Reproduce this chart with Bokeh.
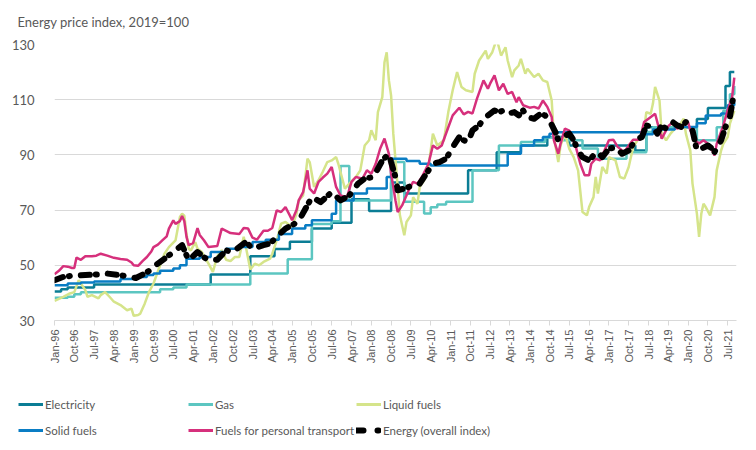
import math
from bokeh.plotting import figure
from bokeh.layouts import column
from bokeh.models import Range1d, FixedTicker, Legend, LegendItem
from bokeh.core.properties import value
from bokeh.embed import file_html
from bokeh.resources import INLINE

# x positions are month indices counted from Jan-1996 (0 = Jan-96)
tick_labels = ["Jan-96", "Oct-96", "Jul-97", "Apr-98", "Jan-99", "Oct-99", "Jul-00", "Apr-01",
               "Jan-02", "Oct-02", "Jul-03", "Apr-04", "Jan-05", "Oct-05", "Jul-06", "Apr-07",
               "Jan-08", "Oct-08", "Jul-09", "Apr-10", "Jan-11", "Oct-11", "Jul-12", "Apr-13",
               "Jan-14", "Oct-14", "Jul-15", "Apr-16", "Jan-17", "Oct-17", "Jul-18", "Apr-19",
               "Jan-20", "Oct-20", "Jul-21"]
tick_months = [9 * i for i in range(len(tick_labels))]
y_ticks = [30, 50, 70, 90, 110, 130]
title_text = "Energy price index, 2019=100"

# step series: (month where the level starts, level)
electricity = [(0, 40.5), (3, 41.3), (6, 42.0), (18, 43.0), (71, 46.7), (89, 53.3), (100, 55.9),
               (107, 58.5), (117, 63.3), (126, 65.4), (135, 73.9), (143, 69.7), (153, 80.0),
               (159, 76.0), (188, 84.4), (201, 91.0), (212, 93.4), (224, 96.5), (234, 93.4),
               (264, 91.6), (269, 100.0), (292, 103.0), (297, 107.0), (305, 115.0), (307, 120.0),
               (309, 120.0)]
gas = [(0, 38.2), (6, 38.6), (9, 39.5), (12, 40.2), (48, 41.3), (54, 42.0), (60, 43.0), (89, 47.0),
       (106, 52.2), (117, 65.0), (126, 66.0), (130, 86.0), (134, 73.5), (153, 87.4), (159, 73.0),
       (168, 68.8), (171, 71.0), (174, 72.0), (178, 73.0), (190, 84.4), (202, 93.4), (212, 94.7),
       (223, 96.3), (230, 95.3), (240, 92.3), (247, 88.6), (260, 91.0), (269, 98.3), (272, 100.0),
       (292, 95.3), (301, 100.0), (304, 106.0), (307, 112.0), (309, 115.0)]
solid_fuels = [(0, 42.8), (6, 43.4), (12, 43.8), (18, 44.1), (30, 45.0), (36, 45.8), (42, 46.5),
               (45, 47.0), (48, 48.0), (54, 48.8), (57, 50.0), (60, 52.4), (66, 53.0), (71, 54.8),
               (78, 56.0), (84, 56.6), (90, 58.4), (96, 59.3), (102, 61.3), (108, 63.3), (114, 64.5),
               (117, 66.3), (126, 68.7), (128, 73.5), (136, 76.0), (142, 77.8), (151, 82.0),
               (153, 88.6), (160, 87.8), (166, 86.8), (171, 86.2), (206, 90.4), (212, 93.4),
               (218, 95.3), (222, 96.5), (225, 97.7), (228, 98.2), (268, 97.5), (272, 99.2),
               (282, 100.1), (292, 101.5), (296, 104.3), (303, 105.0), (306, 108.0), (309, 109.0)]

# volatile series: (month, value)
liquid_fuels = [(0, 37.1), (1, 37.5), (4, 38.6), (7, 39.8), (9, 40.3), (11, 44.6), (12, 43.4), (14, 41.0),
                (15, 38.6), (17, 39.2), (20, 38.0), (21, 39.2), (23, 40.3), (25, 38.6), (27, 36.8),
                (30, 35.6), (33, 33.7), (35, 34.3), (36, 31.7), (38, 32.0), (39, 32.5), (41, 36.1),
                (43, 40.4), (45, 43.4), (48, 50.0), (50, 54.2), (52, 56.6), (55, 59.0), (57, 67.5),
                (58, 68.7), (59, 68.0), (60, 61.5), (61, 56.0), (62, 55.4), (64, 58.4), (65, 56.0),
                (67, 54.8), (70, 50.6), (72, 47.6), (74, 53.3), (76, 55.5), (78, 52.0), (80, 51.5),
                (82, 53.0), (84, 53.0), (86, 60.3), (87, 56.6), (89, 48.5), (91, 50.6), (93, 50.0),
                (95, 51.2), (98, 52.4), (99, 54.2), (101, 59.0), (103, 65.1), (105, 65.7), (108, 63.9),
                (110, 68.7), (111, 73.5), (113, 75.3), (115, 88.6), (116, 87.4), (118, 78.4),
                (120, 80.8), (122, 84.0), (124, 87.4), (126, 88.0), (128, 89.2), (129, 86.8),
                (131, 80.8), (132, 77.8), (134, 79.6), (137, 82.0), (139, 84.4), (141, 93.4),
                (143, 95.3), (144, 98.9), (146, 95.3), (147, 105.5), (149, 110.9), (150, 123.6),
                (151, 127.2), (152, 117.0), (153, 111.5), (154, 97.7), (156, 78.4), (157, 68.1),
                (159, 60.9), (160, 65.7), (162, 68.1), (163, 74.7), (165, 72.3), (166, 78.4),
                (168, 80.8), (170, 85.6), (172, 97.7), (174, 93.4), (177, 95.3), (179, 105.5),
                (181, 113.4), (183, 120.0), (185, 114.6), (187, 113.4), (190, 112.8), (191, 119.4),
                (193, 124.2), (196, 127.8), (197, 124.8), (199, 127.2), (201, 132.0), (202, 129.0),
                (203, 126.0), (205, 129.0), (206, 124.2), (208, 118.2), (209, 120.6), (211, 122.4),
                (212, 124.8), (214, 119.4), (215, 121.2), (218, 118.2), (220, 119.4), (222, 117.0),
                (224, 116.4), (226, 109.7), (227, 96.5), (229, 87.4), (230, 93.4), (232, 97.7),
                (234, 92.2), (236, 89.2), (238, 84.4), (240, 69.3), (242, 68.1), (243, 71.1),
                (245, 74.7), (246, 82.0), (247, 76.0), (249, 85.6), (251, 83.2), (252, 89.2),
                (255, 88.0), (257, 82.0), (259, 81.4), (261, 85.6), (263, 92.8), (265, 95.3),
                (268, 98.9), (269, 105.5), (271, 104.9), (272, 108.5), (273, 114.6), (275, 109.7),
                (276, 97.7), (278, 95.3), (280, 97.7), (282, 99.5), (284, 100.7), (286, 103.1),
                (287, 97.7), (289, 91.6), (290, 79.6), (292, 68.7), (293, 60.3), (294, 68.7),
                (295, 72.3), (296, 71.1), (298, 68.1), (300, 74.7), (301, 84.4), (303, 91.6),
                (304, 94.0), (306, 96.5), (307, 101.3), (309, 106.0)]
transport_fuels = [(0, 46.8), (2, 48.0), (4, 49.7), (6, 49.5), (8, 49.0), (9, 49.0), (10, 52.8), (12, 52.0),
                   (14, 53.3), (17, 53.3), (19, 53.5), (21, 54.2), (24, 53.5), (27, 52.7), (30, 52.3),
                   (33, 52.0), (35, 51.0), (36, 50.0), (38, 49.8), (40, 51.5), (42, 53.0), (44, 55.0),
                   (45, 56.6), (47, 57.5), (49, 59.0), (51, 60.5), (52, 63.3), (54, 66.3), (55, 65.0),
                   (57, 66.0), (58, 67.9), (59, 66.0), (60, 60.3), (61, 57.3), (63, 58.0), (65, 63.5),
                   (66, 61.0), (68, 59.0), (70, 56.6), (72, 56.8), (74, 57.0), (76, 63.3), (78, 62.5),
                   (80, 61.7), (82, 61.5), (84, 61.3), (86, 63.5), (88, 63.3), (90, 60.0), (92, 59.3),
                   (95, 62.5), (97, 62.5), (99, 63.5), (101, 69.9), (103, 69.3), (105, 71.1), (107, 68.0),
                   (108, 66.3), (110, 70.0), (111, 73.5), (113, 76.5), (115, 84.4), (116, 77.8),
                   (118, 76.0), (120, 80.2), (122, 81.8), (124, 83.2), (126, 85.6), (128, 78.4),
                   (130, 75.3), (133, 74.7), (135, 80.2), (137, 82.0), (140, 81.4), (142, 84.4),
                   (144, 83.2), (146, 86.8), (148, 92.2), (150, 95.9), (152, 90.4), (153, 83.2),
                   (155, 73.5), (156, 69.3), (158, 71.7), (161, 77.2), (163, 80.2), (165, 79.6),
                   (167, 82.0), (170, 86.8), (172, 93.4), (174, 92.2), (176, 93.4), (179, 100.0),
                   (181, 104.3), (184, 107.1), (186, 104.7), (188, 105.6), (190, 105.0), (192, 110.3),
                   (195, 117.0), (197, 114.0), (198, 115.8), (200, 118.8), (202, 113.4), (204, 115.8),
                   (206, 112.1), (208, 112.8), (210, 109.1), (211, 110.9), (213, 108.0), (216, 107.1),
                   (218, 107.4), (220, 106.8), (222, 109.7), (224, 107.4), (226, 103.7), (227, 95.3),
                   (229, 90.4), (230, 94.0), (232, 99.5), (234, 98.8), (237, 92.8), (239, 86.8),
                   (241, 82.6), (243, 82.6), (244, 86.8), (246, 88.6), (248, 88.0), (250, 91.6),
                   (252, 95.3), (254, 95.5), (256, 92.9), (259, 91.0), (261, 93.4), (263, 95.5),
                   (266, 95.5), (268, 101.9), (270, 103.1), (273, 104.9), (275, 98.9), (276, 95.9),
                   (279, 100.4), (281, 101.9), (283, 99.5), (285, 100.4), (288, 101.9), (289, 98.9),
                   (291, 95.3), (293, 94.1), (295, 95.3), (298, 93.4), (300, 89.8), (301, 94.0),
                   (304, 100.7), (306, 106.1), (308, 110.9), (309, 118.0)]
energy_overall = [(0, 44.6), (4, 45.8), (8, 46.2), (12, 46.4), (18, 46.6), (24, 47.0), (30, 46.4),
                  (34, 45.8), (37, 45.4), (41, 47.0), (44, 48.5), (46, 50.0), (50, 52.4), (54, 54.8),
                  (58, 57.3), (61, 51.8), (65, 54.8), (69, 52.3), (74, 52.0), (78, 55.4), (81, 54.8),
                  (87, 58.5), (90, 56.0), (95, 57.3), (98, 57.9), (101, 60.3), (105, 63.3), (109, 65.0),
                  (112, 67.5), (117, 74.7), (121, 72.9), (126, 76.5), (130, 73.5), (134, 75.3),
                  (138, 79.6), (141, 81.4), (145, 82.0), (149, 88.0), (152, 90.4), (153, 87.4),
                  (155, 82.0), (156, 77.2), (159, 77.8), (163, 79.0), (166, 79.6), (169, 83.2),
                  (172, 86.8), (175, 87.4), (178, 88.6), (181, 92.8), (184, 96.5), (186, 95.3),
                  (188, 94.7), (190, 98.9), (193, 100.7), (195, 103.1), (197, 104.3), (200, 106.1),
                  (202, 105.5), (204, 106.1), (206, 104.9), (209, 105.5), (211, 104.3), (213, 106.1),
                  (215, 103.7), (218, 103.1), (221, 104.9), (223, 104.3), (225, 102.5), (228, 97.7),
                  (229, 95.3), (231, 96.5), (234, 97.7), (236, 95.3), (238, 91.6), (240, 89.2),
                  (243, 88.0), (245, 89.8), (247, 91.0), (249, 89.2), (252, 92.2), (255, 92.8),
                  (258, 90.4), (261, 91.6), (264, 95.3), (267, 96.5), (269, 100.7), (272, 100.1),
                  (274, 97.7), (276, 100.7), (278, 99.5), (281, 101.9), (283, 100.7), (285, 100.1),
                  (287, 101.9), (290, 98.9), (292, 91.6), (294, 92.2), (297, 93.4), (299, 92.2),
                  (300, 91.0), (303, 95.3), (305, 100.1), (307, 103.7), (309, 113.0)]

GREY = "#595959"
GRID = "#d9d9d9"
C_EL, C_GAS, C_LIQ, C_SOL, C_TR = "#0b7d95", "#5cc6c1", "#d5e48a", "#0a7dc4", "#d6307c"
W = 756


def no_align(f):
    if "frame_align" in f.properties():
        f.frame_align = False
    return f


def bare(height):
    f = figure(width=W, height=height, frame_width=W, frame_height=height,
               x_range=Range1d(0, W), y_range=Range1d(0, height),
               x_axis_type=None, y_axis_type=None, output_backend="svg", toolbar_location=None,
               min_border=0)
    f.outline_line_color = None
    f.grid.visible = False
    return no_align(f)


def xy(pairs):
    return [a for a, _ in pairs], [b for _, b in pairs]


# ---- title strip ----
pt = bare(34)
pt.text(x=[17], y=[12.3], text=[title_text], text_font=value("Lato"), text_font_size="13px",
        text_color=GREY, text_baseline="alphabetic", text_align="left")

# ---- main chart ----
p = figure(width=W, height=354, x_range=Range1d(0, 310), y_range=Range1d(30, 130),
           output_backend="svg", toolbar_location=None,
           min_border_left=54, min_border_right=20, min_border_top=10, min_border_bottom=68)
no_align(p)
p.outline_line_color = None
p.xgrid.grid_line_color = None
p.ygrid.grid_line_color = GRID
p.ygrid.grid_line_width = 1

p.yaxis.ticker = FixedTicker(ticks=y_ticks)
p.yaxis.axis_line_color = None
p.yaxis.major_tick_line_color = None
p.yaxis.major_tick_out = 6
p.yaxis.minor_tick_line_color = None
p.yaxis.major_label_standoff = 14
p.yaxis.major_label_text_font = "Lato"
p.yaxis.major_label_text_font_size = "13px"
p.yaxis.major_label_text_color = GREY

p.xaxis.ticker = FixedTicker(ticks=tick_months)
p.xaxis.major_label_overrides = {m: lab for m, lab in zip(tick_months, tick_labels)}
p.xaxis.major_label_orientation = math.pi / 2
p.xaxis.axis_line_color = GRID
p.xaxis.major_tick_line_color = GRID
p.xaxis.major_tick_out = 5
p.xaxis.major_tick_in = 0
p.xaxis.minor_tick_line_color = None
p.xaxis.major_label_standoff = 4
p.xaxis.major_label_text_font = "Liberation Sans"
p.xaxis.major_label_text_font_size = "11px"
p.xaxis.major_label_text_color = GREY

p.step(*xy(electricity), mode="after", line_color=C_EL, line_width=2.5)
p.step(*xy(gas), mode="after", line_color=C_GAS, line_width=2.5)
p.line(*xy(liquid_fuels), line_color=C_LIQ, line_width=2.5)
p.step(*xy(solid_fuels), mode="after", line_color=C_SOL, line_width=2.5)
p.line(*xy(transport_fuels), line_color=C_TR, line_width=2.5)
p.line(*xy(energy_overall), line_color="black", line_width=6, line_cap="round",
       line_join="round", line_dash="9 6 1 11")

# ---- legend strip (hidden copies of the series supply the legend swatches) ----
pl = bare(62)
leg_r = {
    "Electricity": pl.step(*xy(electricity), mode="after", line_color=C_EL, line_width=3, visible=False),
    "Gas": pl.step(*xy(gas), mode="after", line_color=C_GAS, line_width=3, visible=False),
    "Liquid fuels": pl.line(*xy(liquid_fuels), line_color=C_LIQ, line_width=3, visible=False),
    "Solid fuels": pl.step(*xy(solid_fuels), mode="after", line_color=C_SOL, line_width=3, visible=False),
    "Fuels for personal transport": pl.line(*xy(transport_fuels), line_color=C_TR, line_width=3,
                                            visible=False),
    "Energy (overall index)": pl.line(*xy(energy_overall), line_color="black", line_width=6,
                                      line_cap="round", line_dash="7 14 1 14", visible=False),
}
legend_cols = [(["Electricity", "Solid fuels"], 18),
               (["Gas", "Fuels for personal transport"], 188),
               (["Liquid fuels", "Energy (overall index)"], 356)]
for names, xoff in legend_cols:
    lg = Legend(items=[LegendItem(label=n, renderers=[leg_r[n]]) for n in names],
                location=(xoff, 12), orientation="vertical", padding=0, margin=0,
                spacing=10, glyph_width=25, glyph_height=16, label_height=16,
                label_standoff=2, border_line_color=None, background_fill_alpha=0,
                inactive_fill_alpha=0,
                label_text_font="Lato", label_text_font_size="11.5px",
                label_text_color=GREY)
    pl.add_layout(lg, "center")

layout = column(pt, p, pl, spacing=0)
open("out.html", "w").write(file_html(layout, INLINE))
